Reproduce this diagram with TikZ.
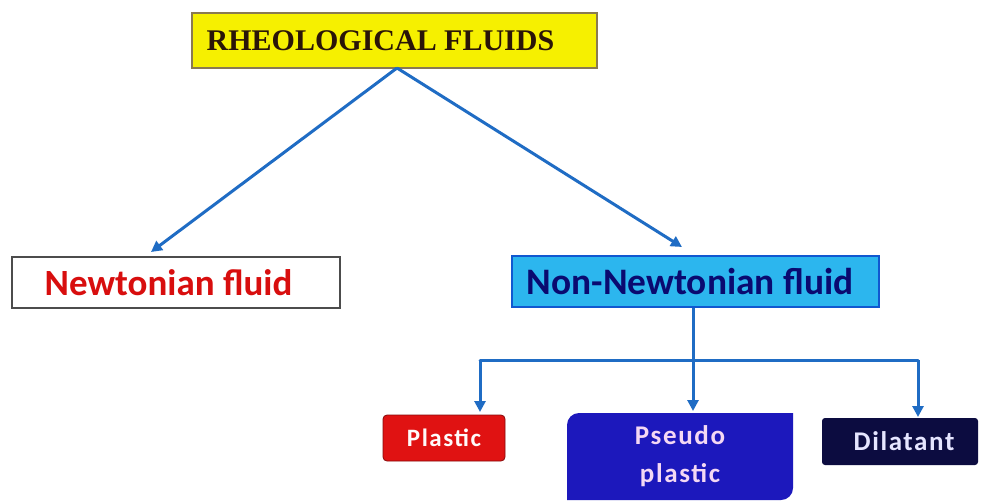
\documentclass[tikz,border=0pt]{standalone}
\usepackage{fontspec}
\setmainfont{Carlito}
\newfontfamily\titlefont{Liberation Serif}
\newfontfamily\boxfont[LetterSpace=6]{Carlito}
\usetikzlibrary{arrows.meta,calc}
\definecolor{linkblue}{HTML}{1F6CC4}
\definecolor{ttlyellow}{HTML}{F6F000}
\definecolor{ttlborder}{HTML}{8A7A50}
\definecolor{ttltext}{HTML}{2A1508}
\definecolor{nwtred}{HTML}{D80E0E}
\definecolor{nnfill}{HTML}{2CB6EE}
\definecolor{nnborder}{HTML}{1058D0}
\definecolor{nntext}{HTML}{0A0A70}
\definecolor{plfill}{HTML}{E01212}
\definecolor{psfill}{HTML}{1C18BC}
\definecolor{dlfill}{HTML}{0C0C40}
\definecolor{pstext}{HTML}{F4D8F4}
\tikzset{
  arr/.style={draw=linkblue, line width=3pt, -{Triangle[length=11pt,width=11pt]}},
  lnk/.style={draw=linkblue, line width=3pt},
  boxbase/.style={rectangle, inner sep=0pt, align=center},
}
\begin{document}
\begin{tikzpicture}[x=1pt,y=-1pt]
\useasboundingbox (0,0) rectangle (982,503);
\fill[white] (0,0) rectangle (982,503);

\node[boxbase, draw=ttlborder, line width=1.6pt, fill=ttlyellow,
      minimum width=405pt, minimum height=55pt,
      font=\titlefont\bfseries\fontsize{30}{32}\selectfont, text=ttltext]
      (title) at (394.5,40.5) {\hspace*{-28pt}RHEOLOGICAL FLUIDS};

\node[boxbase, draw=black!70, line width=1.6pt, fill=white,
      minimum width=328pt, minimum height=51pt,
      font=\bfseries\fontsize{37}{38}\selectfont, text=nwtred]
      (newton) at (176,282.5) {\hspace*{-15pt}Newtonian fluid};

\node[boxbase, draw=nnborder, line width=1.6pt, fill=nnfill,
      minimum width=367pt, minimum height=51pt,
      font=\bfseries\fontsize{37.4}{38}\selectfont, text=nntext]
      (nonnewton) at (695.5,281.5) {\hspace*{-11pt}Non-Newtonian fluid};

% plastic box
\fill[plfill, draw=plfill!60!black, line width=0.8pt, rounded corners=4pt]
  (383,415) rectangle (505,461);
\node[boxbase, minimum width=122pt, minimum height=46pt,
      font=\boxfont\bfseries\fontsize{25}{26}\selectfont, text=white!92!pink]
      (plastic) at (444,438) {Plastic};

% pseudo plastic box
\fill[psfill] (567,425) arc[start angle=180, end angle=90, radius=12pt]
  -- (793,413) -- (793,488) arc[start angle=0, end angle=-90, radius=12pt]
  -- (567,500) -- cycle;
\node[boxbase, minimum width=226pt, minimum height=87pt,
      font=\boxfont\bfseries\fontsize{27}{38}\selectfont, text=pstext]
      (pseudo) at (680,456.5) {Pseudo\\plastic};

% dilatant box
\fill[dlfill, rounded corners=3pt] (822,418) rectangle (978,465);
\node[boxbase, minimum width=156pt, minimum height=47pt,
      font=\boxfont\bfseries\fontsize{27}{28}\selectfont, text=white!90!blue]
      (dilatant) at (900,441.5) {\hspace*{8pt}Dilatant};

% connectors
\coordinate (apex) at (397,68);
\coordinate (newtip) at (151,252);
\coordinate (nontip) at (682,247);
\draw[arr] (apex) -- (newtip);
\draw[arr] (apex) -- (nontip);

\coordinate (bus) at (693,360);
\coordinate (bl) at (480,360);
\coordinate (br) at (918,360);
\coordinate (pltip) at (480,412);
\coordinate (pstip) at (693,411);
\coordinate (dltip) at (918,417);
\draw[lnk] (nonnewton.south -| bus) -- (bus);
\draw[lnk, line cap=round] (bl) -- (br);
\draw[arr] (bl) -- (pltip);
\draw[arr] (bus) -- (pstip);
\draw[arr] (br) -- (dltip);
\end{tikzpicture}
\end{document}
